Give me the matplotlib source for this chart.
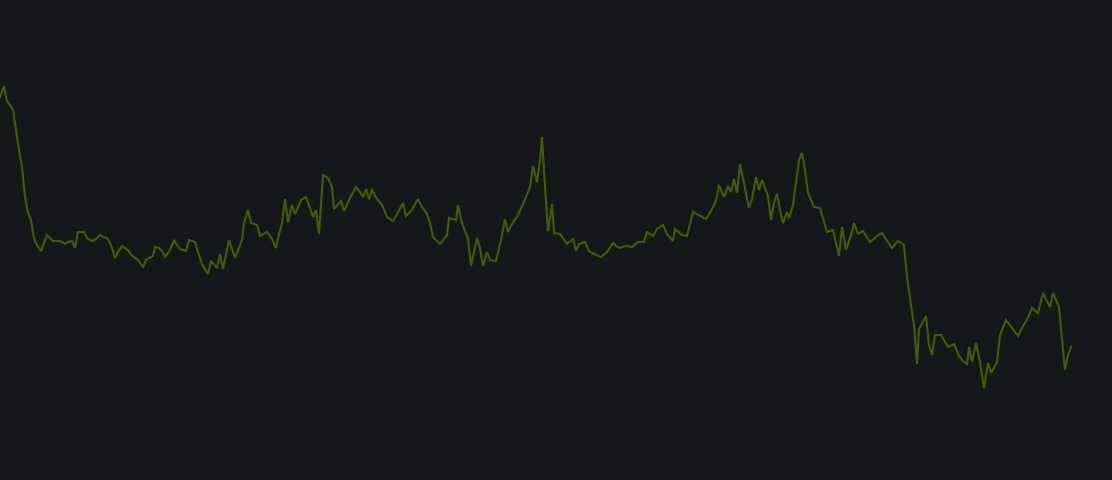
import matplotlib
matplotlib.use("Agg")
import matplotlib.pyplot as plt

# time positions and the series level at each of them
t = [0, 4, 7, 10, 13, 16, 19, 22, 25, 28, 31, 34, 37, 41, 44, 47, 50, 53, 57, 60,
     65, 68, 72, 75, 78, 81, 84, 87, 90, 93, 97, 100, 103, 107, 110, 112, 115, 118, 122, 125,
     128, 131, 134, 138, 140, 143, 146, 149, 153, 155, 159, 162, 165, 168, 171, 174, 177, 180,
     186, 189, 195, 198, 202, 208, 211, 217, 220, 223, 229, 235, 242, 244, 248, 251, 257, 260,
     267, 272, 276, 279, 282, 285, 288, 292, 295, 301, 306, 310, 313, 316, 319, 323, 328, 332,
     334, 341, 344, 350, 356, 360,
     363, 366, 369, 372, 375, 378, 382, 387, 393, 397, 403, 406, 412, 418, 422, 427, 430, 433,
     440, 447, 449, 456, 458, 462, 468, 471, 477, 480, 483, 487, 490, 496, 501, 505, 508, 512,
     518, 523, 530, 533, 537, 540,
     542, 545, 548, 552, 554, 560, 567, 573, 576, 579, 585, 589, 594, 601, 607, 613, 619, 626,
     632, 638, 644, 647, 653, 657, 663, 667, 673, 675, 682, 687, 693, 706, 711, 716, 719, 724,
     728, 731, 734, 737, 740, 749, 752, 756, 759, 762, 768, 771, 774, 777, 781, 783, 787, 789,
     793, 799, 802, 805, 808, 814, 820,
     827, 833, 839, 842, 846, 852, 854, 858, 863, 870, 877, 882, 892, 898, 904,
     907, 911, 914, 917, 919, 926, 929, 932, 935, 941, 948, 954, 959, 963, 967, 969, 972, 976,
     980, 984, 988, 991, 997, 1000, 1006, 1018, 1023, 1028, 1032, 1038, 1043, 1050, 1053, 1059,
     1065, 1068, 1071]

level = [383, 394, 379, 375, 370, 350, 330, 313, 283, 267, 260, 242, 235, 229, 237, 245, 242, 239, 239, 239,
         236, 238, 239, 232, 248, 248, 248, 242, 240, 239, 242, 245, 243, 242, 237, 232, 222, 228, 234, 232,
         230, 225, 223, 220, 217, 213, 220, 222, 224, 233, 232, 229, 223, 227, 232, 240, 235, 231,
         229, 240, 238, 228, 216, 206, 219, 212, 226, 211, 240, 222, 240, 257, 270, 257, 255, 244,
         248, 241, 232, 246, 257, 281, 258, 275, 266, 280, 283, 272, 263, 270, 246, 305, 302, 293,
         271, 279, 269, 282, 293, 288,
         283, 291, 281, 291, 284, 280, 275, 263, 259, 266, 277, 264, 270, 281, 273, 266, 257, 243,
         236, 245, 262, 260, 275, 257, 241, 214, 242, 232, 214, 228, 220, 219, 240, 261, 248, 256,
         265, 276, 293, 314, 298, 320,
         343, 293, 249, 276, 247, 246, 236, 241, 229, 236, 238, 229, 226, 223, 228, 237, 232, 234,
         233, 238, 238, 248, 244, 251, 255, 246, 239, 251, 245, 244, 268, 261, 269, 279, 295, 283,
         294, 288, 301, 287, 316, 272, 281, 303, 290, 300, 284, 260, 277, 286, 265, 257, 268, 262,
         275, 320, 327, 310, 287, 273, 272,
         248, 250, 224, 253, 230, 248, 257, 246, 249, 238, 244, 247, 232, 239, 235,
         203, 175, 155, 116, 151, 164, 135, 125, 145, 145, 133, 136, 124, 119, 116, 133, 118, 137,
         118, 92, 117, 107, 118, 145, 160, 144, 154, 162, 172, 167, 187, 173, 187, 173,
         110, 125, 133]

bg = '#16171b'

fig = plt.figure(figsize=(11.12, 4.8), dpi=100, facecolor=bg)
ax = fig.add_axes([0, 0, 1, 1])
ax.set_facecolor(bg)

ax.plot(t, level, color='#435e00', linewidth=1.5, solid_joinstyle='miter')

ax.set_xlim(0, 1112)
ax.set_ylim(0, 480)
ax.axis('off')

fig.savefig('out.png', dpi=100, facecolor=bg)
